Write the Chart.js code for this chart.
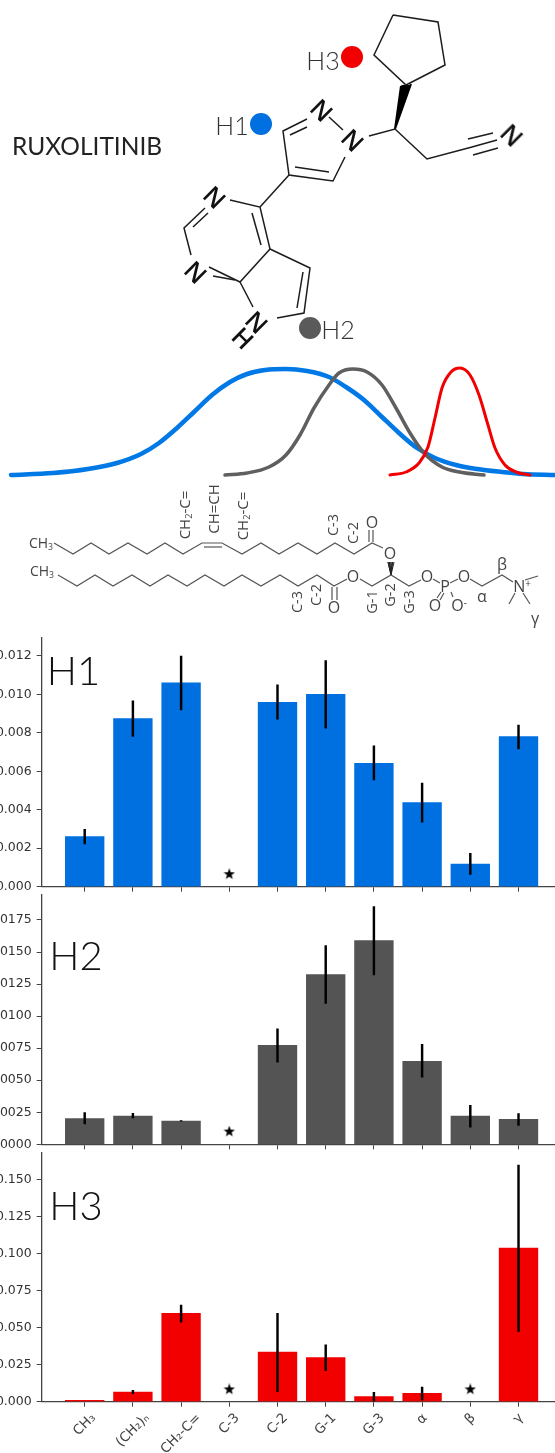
<!DOCTYPE html>
<html lang="en">
<head>
<meta charset="UTF-8" />
<title>Ruxolitinib</title>
<script src="https://cdn.jsdelivr.net/npm/chart.js"></script>
<style>
  html, body { margin: 0; padding: 0; background: #fff; }
  #page { position: relative; width: 555px; height: 1453px; overflow: hidden; }
  canvas { position: absolute; left: 0; }
  .t { position: absolute; white-space: nowrap; line-height: 1; font-family: 'Open Sans', sans-serif; color: #444; transform-origin: center; }
  .t.big { font-family: Lato, sans-serif; font-weight: 300; }
  .t.reg { font-family: Lato, sans-serif; font-weight: 400; }
  .t.atom { font-weight: 600; }
  .t sub { font-size: 62%; line-height: 0; vertical-align: -0.25em; }
  .t sup { font-size: 62%; line-height: 0; vertical-align: 0.5em; }
</style>
</head>
<body>
<div id="page">
  <canvas id="top" width="555" height="632" style="top:0"></canvas>
  <canvas id="h1" width="555" height="263" style="top:630px"></canvas>
  <canvas id="h2" width="555" height="262" style="top:890px"></canvas>
  <canvas id="h3" width="555" height="306" style="top:1147px"></canvas>
</div>

<script>
// x positions / names shared by all three panels
const categories = ['CH₃', '(CH₂)ₙ', 'CH₂-C=', 'C-3', 'C-2', 'G-1', 'G-3', 'α', 'β', 'γ'];

// H1
const h1Values = [0.0026, 0.00874, 0.0106, null, 0.00959, 0.0100, 0.00642, 0.00437, 0.00118, 0.00781];
const h1Low    = [0.00222, 0.00781, 0.00919, null, 0.00871, 0.00824, 0.00555, 0.00335, 0.00064, 0.00716];
const h1High   = [0.00298, 0.00966, 0.01199, null, 0.0105, 0.01176, 0.00732, 0.00539, 0.00173, 0.00841];
const h1Stars  = [[3, 0.00065]];
const h1Ticks  = [0, 0.002, 0.004, 0.006, 0.008, 0.010, 0.012];

// H2
const h2Values = [0.0020, 0.00221, 0.00182, null, 0.00773, 0.01324, 0.0159, 0.00648, 0.00221, 0.00195];
const h2Low    = [0.00159, 0.00206, 0.0018, null, 0.0064, 0.0110, 0.01322, 0.00523, 0.00133, 0.00148];
const h2High   = [0.00247, 0.00242, 0.00185, null, 0.0090, 0.0155, 0.01855, 0.0078, 0.00304, 0.00239];
const h2Stars  = [[3, 0.00099]];
const h2Ticks  = [0, 0.0025, 0.005, 0.0075, 0.01, 0.0125, 0.015, 0.0175];

// H3
const h3Values = [0.001, 0.0065, 0.0596, null, 0.0335, 0.0297, 0.0034, 0.0056, null, 0.1036];
const h3Low    = [null, 0.0054, 0.0537, null, 0.0067, 0.0209, 0, 0.0011, null, 0.0472];
const h3High   = [null, 0.0076, 0.0652, null, 0.0596, 0.0384, 0.0063, 0.0099, null, 0.1596];
const h3Stars  = [[3, 0.0083], [8, 0.0083]];
const h3Ticks  = [0, 0.025, 0.05, 0.075, 0.1, 0.125, 0.15];

// distribution curves under the molecule
const blueCurve = [[11,475],[53,473],[88,469],[117,463],[141,454],[159,443],[177,428],[194,412],[212,395],[230,382],[247,374],[265,370],[286,369],[307,371],[329,377],[346,387],[364,400],[382,417],[399,433],[417,448],[435,458],[456,465],[477,469],[502,472],[523,474],[555,475]];
const grayCurve = [[225,475],[247,473],[269,467],[286,455],[300,435],[314,408],[329,385],[339,373],[353,369],[367,372],[382,385],[396,408],[410,433],[424,453],[442,467],[459,472],[484,475]];
const redCurve  = [[390,475],[406,472],[419,463],[428,447],[435,418],[442,388],[451,372],[460,368],[470,375],[479,395],[488,425],[495,448],[505,465],[516,472],[530,475]];

// ruxolitinib skeleton
const moleculeBonds = [
  [[393,15],[438,22],[445,65],[406,85],[374,55],[393,15]],
  [[369,136],[395,129],[427,159],[472,147]],
  [[468,139],[493,133]], [[472,147],[497,140]], [[473,155],[498,148]],
  [[307,119],[283,131],[289,175],[333,181],[345,157]],
  [[290,135],[307,127]], [[329,117],[343,130]], [[295,167],[329,172]],
  [[289,175],[260,207]],
  [[230,200],[260,207],[270,249],[240,282],[209,267]],
  [[252,213],[261,245]], [[213,276],[235,280]],
  [[205,208],[184,228],[191,255]], [[193,227],[208,213]],
  [[270,249],[310,268],[304,313],[277,318]], [[303,272],[297,308]],
  [[240,282],[253,307]]
];
const moleculeWedges = [[[395,129],[401,86],[402.5,85],[404,85],[405.5,85],[407,85],[408.5,85],[410,85],[411,84]]];
const moleculeDots = [[352,57,'#f20000'], [261,124,'#0070e0'], [310,328,'#5a5a5a']];

// phospholipid skeleton
const lipidBonds = [
  [[54,543],[73,554],[91,543],[109,554],[128,543],[147,554],[165,543],[183,554],[202,543],[222,543],[242,554],[261,543],[279,554],[298,543],[317,554],[335,543],[354,554],[372,543],[383,548]],
  [[204,547],[222,547]], [[369,530],[369,542]], [[373,530],[373,542]],
  [[58,575],[77,586],[95,575],[113,586],[132,575],[150,586],[168,575],[187,586],[205,575],[224,586],[242,575],[261,586],[280,575],[298,586],[317,575],[334,586],[347,579]],
  [[332,587],[332,600]], [[337,587],[337,600]],
  [[360,579],[372,586],[391,575],[409,586],[421,580]],
  [[433,579],[440,583]], [[450,583],[458,579]],
  [[470,579],[482,586],[502,575],[513,582]],
  [[525,580],[538,576]], [[515,593],[509,604]], [[523,593],[530,604]],
  [[441,592],[437,598]], [[444,593],[440,600]], [[451,592],[453,597]]
];
const lipidWedges = [[[391,575],[388,562],[389.5,562],[391,562],[392.5,562],[394,562]]];

// [html, centre x, centre y, font size, rotation, colour, class]
const textLabels = [
  ['RUXOLITINIB', 87, 146, 24.5, 0, '#222', 'reg'],
  ['H3', 323, 60, 25, 0, '#333', 'big'], ['H1', 232, 125, 25, 0, '#333', 'big'], ['H2', 338, 329, 25, 0, '#333', 'big'],
  ['N', 322, 110, 25, 45, '#111', 'atom'], ['N', 353, 140, 25, 45, '#111', 'atom'], ['N', 512, 135, 25, 45, '#111', 'atom'],
  ['N', 215, 197, 25, 45, '#111', 'atom'], ['N', 196, 272, 25, 45, '#111', 'atom'],
  ['N', 257, 322, 25, 45, '#111', 'atom'], ['H', 243, 338, 25, 45, '#111', 'atom'],
  ['CH<sub>3</sub>', 41, 543, 14, 0], ['CH<sub>3</sub>', 42, 571, 14, 0],
  ['CH<sub>2</sub>-C=', 184, 515, 15, -90], ['CH=CH', 213, 509, 15, -90], ['CH<sub>2</sub>-C=', 242, 516, 15, -90],
  ['C-3', 333, 525, 14.5, -90], ['C-2', 353, 533, 14.5, -90], ['C-3', 297, 602, 14.5, -90], ['C-2', 316, 595, 14.5, -90],
  ['G-1', 372, 602, 14.5, -90], ['G-2', 390, 595, 14.5, -90], ['G-3', 409, 602, 14.5, -90],
  ['O', 372, 522, 16, 0], ['O', 390, 553, 16, 0], ['O', 334, 607, 16, 0], ['O', 353, 576, 16, 0],
  ['O', 427, 576, 16, 0], ['P', 445, 586, 16, 0], ['O', 464, 576, 16, 0], ['O', 435, 605, 16, 0],
  ['O<sup>-</sup>', 459, 605, 16, 0], ['N<sup>+</sup>', 522, 586, 16, 0],
  ['α', 482, 596, 16, 0], ['β', 502, 564, 16, 0], ['γ', 535, 618, 16, 0],
  ['H1', 73.5, 669.5, 40, 0, '#111', 'big'], ['H2', 76, 955, 40, 0, '#111', 'big'], ['H3', 76, 1205, 40, 0, '#111', 'big']
];

const page = document.getElementById('page');
textLabels.forEach(([html, x, y, size, rot, color, cls]) => {
  const el = document.createElement('div');
  el.className = 't ' + (cls || '');
  el.innerHTML = html;
  el.style.left = x + 'px';
  el.style.top = y + 'px';
  el.style.fontSize = size + 'px';
  if (color) el.style.color = color;
  el.style.transform = 'translate(-50%,-50%) rotate(' + rot + 'deg)';
  page.appendChild(el);
});

const toPoints = (list) => list.map(([x, y]) => ({ x, y }));
const pathSet = (list, color, width, extra) => Object.assign({
  type: 'line', data: toPoints(list), borderColor: color, borderWidth: width,
  pointRadius: 0, tension: 0, fill: false
}, extra || {});
const smooth = (order) => ({ cubicInterpolationMode: 'monotone', borderCapStyle: 'round', order });

new Chart(document.getElementById('top'), {
  type: 'scatter',
  data: {
    datasets: [
      pathSet(blueCurve, '#0078e6', 4.5, smooth(3)),
      pathSet(grayCurve, '#5f5f5f', 3.5, smooth(2)),
      pathSet(redCurve, '#f20000', 3, smooth(1)),
      ...moleculeBonds.map(b => pathSet(b, '#1c1c1c', 1.5)),
      ...moleculeWedges.map(b => pathSet(b.flatMap(p => [b[0], p]), '#000', 2)),
      ...lipidBonds.map(b => pathSet(b, '#555', 1.2)),
      ...lipidWedges.map(b => pathSet(b.flatMap(p => [b[0], p]), '#222', 1)),
      {
        type: 'scatter',
        data: moleculeDots.map(([x, y]) => ({ x, y })),
        pointRadius: 11,
        pointBorderWidth: 0,
        pointBackgroundColor: moleculeDots.map(d => d[2])
      }
    ]
  },
  options: {
    responsive: false,
    animation: false,
    devicePixelRatio: 1,
    layout: { autoPadding: false },
    plugins: { legend: { display: false }, tooltip: { enabled: false } },
    scales: {
      x: { type: 'linear', min: 0, max: 555, display: false },
      y: { type: 'linear', min: 0, max: 632, reverse: true, display: false }
    }
  }
});

// filled five pointed star, used as point style
function starImage(size) {
  const c = document.createElement('canvas');
  c.width = c.height = size;
  const g = c.getContext('2d');
  g.fillStyle = '#000';
  g.beginPath();
  for (let i = 0; i < 10; i++) {
    const r = (i % 2 ? 0.2 : 0.5) * size;
    const a = -Math.PI / 2 + i * Math.PI / 5;
    g[i ? 'lineTo' : 'moveTo'](size / 2 + r * Math.cos(a), size / 2 + r * Math.sin(a));
  }
  g.closePath();
  g.fill();
  return c;
}
const star = starImage(12);

const axisColor = '#444';
const tickFont = { family: 'DejaVu Sans', size: 12.5 };
const xMin = -0.892, xMax = 9.757;

// rotated names below H3, centred on the tick like the original
const centredLabels = {
  id: 'centredLabels',
  afterDraw(chart, args, opts) {
    if (!opts.show) return;
    const { ctx, scales: { x } } = chart;
    ctx.save();
    ctx.font = '13.5px "DejaVu Sans"';
    ctx.fillStyle = axisColor;
    ctx.textAlign = 'center';
    ctx.textBaseline = 'middle';
    categories.forEach((name, i) => {
      const w = ctx.measureText(name).width;
      const cy = x.top + 10 + (w + 12) * Math.SQRT1_2 / 2;
      ctx.save();
      ctx.translate(x.getPixelForValue(i), cy);
      ctx.rotate(-Math.PI / 4);
      ctx.fillText(name, 0, 0);
      ctx.restore();
    });
    ctx.restore();
  }
};

function barPanel(id, values, low, high, stars, ticks, digits, yMax, color, topPad, xAxisHeight, showNames) {
  new Chart(document.getElementById(id), {
    type: 'bar',
    data: {
      datasets: [
        {
          type: 'scatter',
          data: stars.map(([x, y]) => ({ x, y })),
          pointStyle: star,
          order: 1
        },
        {
          data: categories.map((c, i) => ({ x: i, y: low[i] === null ? null : [low[i], high[i]] })),
          backgroundColor: '#000',
          barThickness: 1.8,
          order: 2
        },
        {
          data: categories.map((c, i) => ({ x: i, y: values[i] })),
          backgroundColor: color,
          barThickness: 38.7,
          order: 3
        }
      ]
    },
    options: {
      responsive: false,
      animation: false,
      devicePixelRatio: 1,
      grouped: false,
      layout: { autoPadding: false, padding: { top: topPad, left: 0, right: 0, bottom: 0 } },
      plugins: {
        legend: { display: false },
        tooltip: { enabled: false },
        centredLabels: { show: showNames }
      },
      scales: {
        x: {
          type: 'linear', min: xMin, max: xMax, offset: false,
          afterBuildTicks(s) { s.ticks = categories.map((c, i) => ({ value: i })); },
          afterFit(s) { s.height = xAxisHeight; },
          grid: { drawOnChartArea: false, offset: false, tickLength: 5, color: axisColor },
          border: { color: axisColor, width: 1.3 },
          ticks: { display: false, maxRotation: 0, minRotation: 0 }
        },
        y: {
          min: 0, max: yMax,
          afterBuildTicks(s) { s.ticks = ticks.map(value => ({ value })); },
          // tick labels must not push the plot area in
          afterFit(s) { s.width = 41.7; s.paddingTop = 0; s.paddingBottom = 0; },
          grid: { drawOnChartArea: false, tickLength: 5, color: axisColor },
          border: { color: axisColor, width: 1.3 },
          ticks: {
            color: '#333', font: tickFont, padding: 5,
            callback: (v) => v.toFixed(digits)
          }
        }
      }
    },
    plugins: [centredLabels]
  });
}

barPanel('h1', h1Values, h1Low, h1High, h1Stars, h1Ticks, 3, 0.01297, '#0070e0', 7.3, 6.3, false);
barPanel('h2', h2Values, h2Low, h2High, h2Stars, h2Ticks, 4, 0.01945, '#545454', 5, 7.7, false);
barPanel('h3', h3Values, h3Low, h3High, h3Stars, h3Ticks, 3, 0.1682, '#f20000', 5.3, 51.3, true);
</script>
</body>
</html>
